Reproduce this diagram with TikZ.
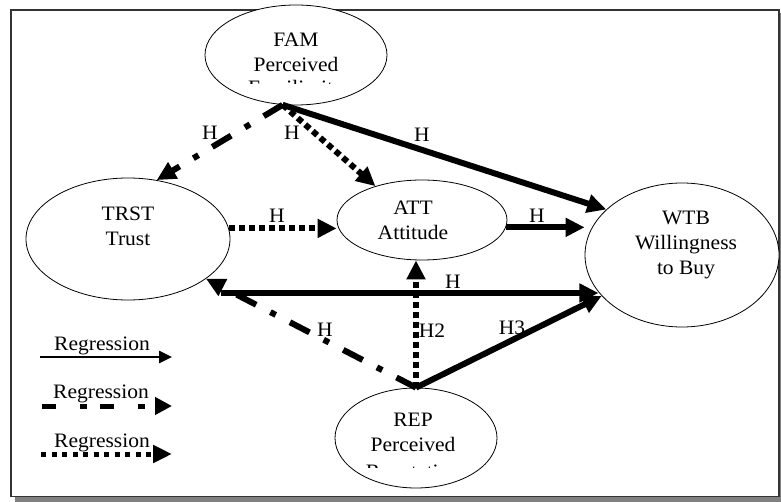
\documentclass[tikz,border=0pt]{standalone}
\usepackage{fontspec}
\setmainfont{Liberation Serif}[FakeStretch=1.05]
\usetikzlibrary{shapes.geometric,arrows.meta}
\begin{document}
\begin{tikzpicture}[x=1pt,y=-1pt,
  ell/.style={ellipse,draw,fill=white,line width=0.8pt,inner sep=0pt},
  txt/.style={align=center,inner sep=0pt,font=\fontsize{20.5}{25}\selectfont},
  lbl/.style={inner sep=0pt,font=\fontsize{20.5}{25}\selectfont},
  big/.style={line width=6pt,-{Triangle[length=19pt,width=18pt]}},
  solidreg/.style={big},
  dashreg/.style={big,dash pattern=on 22pt off 16pt on 6pt off 16pt},
  dotreg/.style={big,dash pattern=on 6pt off 4pt},
  keysolid/.style={line width=2.5pt,-{Triangle[length=13pt,width=12pt]}},
  keydash/.style={line width=5pt,-{Triangle[length=17pt,width=17pt]},dash pattern=on 14pt off 24pt on 7pt off 13pt},
  keydot/.style={line width=5pt,-{Triangle[length=19pt,width=17pt]},dash pattern=on 5pt off 5.5pt},
]
% page and framed panel with drop shadow
\fill[white] (0,0) rectangle (781,502);
\useasboundingbox (0,0) rectangle (781,502);
\fill[black!50] (15,497) rectangle (781,502);
\fill[black!50] (779,13) rectangle (781,502);
\draw[line width=1.6pt,black!80] (10.8,9.8) rectangle (779,496.5);

% constructs
\node[ell,minimum width=182pt,minimum height=100pt] (fam) at (296,55) {};
\node[ell,minimum width=204pt,minimum height=122pt] (trst) at (128,239) {};
\node[ell,minimum width=170pt,minimum height=80pt] (att) at (422,220) {};
\node[ell,minimum width=194pt,minimum height=144pt] (wtb) at (682,255) {};
\node[ell,minimum width=162pt,minimum height=100pt] (rep) at (416,438) {};

\node[txt] (famt) at (296,52.5) {FAM\\Perceived};
\begin{scope}
  \clip (210,70) rectangle (385,83.5);
  \node[lbl] (famc) at (296,90) {Familiarity};
\end{scope}
\node[txt] (trstt) at (128,226.5) {TRST\\Trust};
\node[txt] (attt) at (413,220.5) {ATT\\Attitude};
\node[txt] (wtbt) at (686,245.3) {WTB\\Willingness\\to Buy};
\node[txt] (rept) at (413,432.5) {REP\\Perceived};
\begin{scope}
  \clip (340,455) rectangle (490,467);
  \node[lbl] (repc) at (413,473.8) {Reputation};
\end{scope}

% paths out of FAM
\draw[dashreg] (fam.255) -- (trst.64);
\draw[dotreg] (fam.255) -- (att.144);
\draw[solidreg] (fam.255) -- (wtb.149);
\node[lbl] (h1) at (210,133) {H};
\node[lbl] (h2) at (292,133) {H};
\node[lbl] (h3) at (422,135) {H};

% TRST -> ATT -> WTB
\draw[dotreg] (trst.6) -- (trst.6 -| att.west);
\node[lbl] (h4) at (277,216) {H};
\draw[solidreg] (att.-5) -- (att.-5 -| wtb.west);
\node[lbl] (h5) at (537,216) {H};

% TRST -- WTB
\coordinate (hl) at (221,293);
\draw[solidreg] (hl) -- (wtb.204 |- hl);
\node[lbl] (h6) at (453,282) {H};

% paths out of REP
\draw[dashreg] (rep.north) -- (trst.-27);
\draw[dotreg] (rep.north) -- (rep.north |- att.south);
\draw[solidreg] (rep.north) -- (wtb.207);
\node[lbl] (h7) at (325,330) {H};
\node[lbl] (h8) at (432,331) {H2};
\node[lbl] (h9) at (512,328) {H3};

% key
\coordinate (k1a) at (40,357); \coordinate (k1b) at (172,357);
\coordinate (k2a) at (42,406); \coordinate (k2b) at (172,406);
\coordinate (k3a) at (41,454); \coordinate (k3b) at (172,454);
\node[lbl,anchor=base] (kt1) at (102,350) {Regression};
\node[lbl,anchor=base] (kt2) at (101,398) {Regression};
\node[lbl,anchor=base] (kt3) at (102,447) {Regression};
\draw[keysolid] (k1a) -- (k1b);
\draw[keydash] (k2a) -- (k2b);
\draw[keydot] (k3a) -- (k3b);
\end{tikzpicture}
\end{document}
